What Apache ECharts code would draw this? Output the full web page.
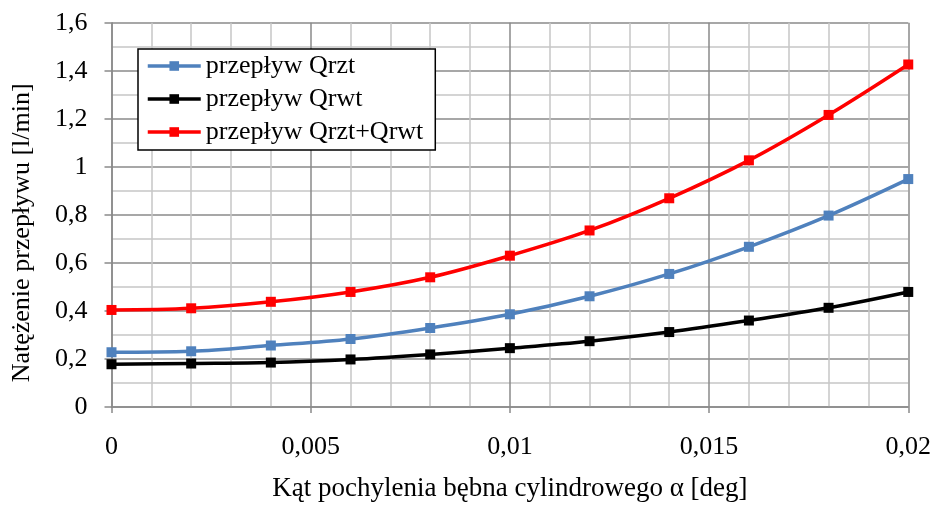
<!DOCTYPE html>
<html>
<head>
<meta charset="utf-8">
<script src="https://cdn.jsdelivr.net/npm/echarts@6/dist/echarts.min.js"></script>
<style>
  html, body { margin: 0; padding: 0; background: #fff; overflow: hidden; }
  #chart { width: 934px; height: 507px; }
</style>
</head>
<body>
<div id="chart"></div>
<script>
// Tilt angle of the cylindrical drum [deg]
const angles = [0, 0.002, 0.004, 0.006, 0.008, 0.010, 0.012, 0.014, 0.016, 0.018, 0.020];
// Flow rates [l/min]
const flowQrzt = [0.228, 0.232, 0.256, 0.283, 0.329, 0.386, 0.461, 0.554, 0.667, 0.797, 0.949];
const flowQrwt = [0.178, 0.181, 0.185, 0.198, 0.219, 0.245, 0.274, 0.312, 0.360, 0.413, 0.479];
const flowSum  = [0.404, 0.411, 0.438, 0.479, 0.540, 0.630, 0.735, 0.869, 1.027, 1.216, 1.426];

const seriesNames = ['przepływ Qrzt', 'przepływ Qrwt', 'przepływ Qrzt+Qrwt'];
const seriesColors = ['#4F81BD', '#000000', '#FF0000'];
const xAxisTitle = 'Kąt pochylenia bębna cylindrowego α [deg]';
const yAxisTitle = 'Natężenie przepływu [l/min]';

const FONT = '"Liberation Serif", "Times New Roman", serif';
const commaFmt = v => String(+v.toFixed(6)).replace('.', ',');

function pairs(values) {
  return angles.map((a, i) => [a, values[i]]);
}

const chart = echarts.init(document.getElementById('chart'), null, { renderer: 'canvas', width: 934, height: 507 });

const majorLine = { show: true, lineStyle: { color: '#8a8a8a', width: 1.5 } };
const minorLine = { show: true, lineStyle: { color: '#c6c6c6', width: 1.5 } };

chart.setOption({
  animation: false,
  backgroundColor: '#ffffff',
  textStyle: { fontFamily: FONT },
  grid: { left: 111.5, top: 22.7, width: 798.5, height: 390.6, containLabel: false },
  legend: {
    orient: 'vertical',
    left: 138,
    top: 49,
    padding: [4, 12, 5, 8],
    itemGap: 7,
    itemWidth: 53,
    itemHeight: 12,
    backgroundColor: '#ffffff',
    borderColor: '#000000',
    borderWidth: 1.5,
    lineStyle: { width: 3.5 },
    textStyle: { fontFamily: FONT, fontSize: 26, color: '#000' },
    data: seriesNames
  },
  xAxis: {
    type: 'value',
    min: 0,
    max: 0.02,
    interval: 0.005,
    name: xAxisTitle,
    nameLocation: 'middle',
    nameGap: 68,
    nameTextStyle: { fontFamily: FONT, fontSize: 27, color: '#000' },
    axisLine: { show: true, lineStyle: { color: '#8a8a8a', width: 1.5 } },
    axisTick: { show: true, inside: false, length: 6, lineStyle: { color: '#8a8a8a', width: 1.5 } },
    axisLabel: { fontFamily: FONT, fontSize: 26, color: '#000', margin: 27, formatter: commaFmt },
    splitLine: majorLine,
    minorTick: { show: false, splitNumber: 5 },
    minorSplitLine: minorLine
  },
  yAxis: {
    type: 'value',
    min: 0,
    max: 1.6,
    interval: 0.2,
    name: yAxisTitle,
    nameLocation: 'middle',
    nameGap: 76,
    nameRotate: 90,
    nameTextStyle: { fontFamily: FONT, fontSize: 26, color: '#000', padding: [0, 36, 0, 0] },
    axisLine: { show: true, lineStyle: { color: '#8a8a8a', width: 1.5 } },
    axisTick: { show: true, inside: false, length: 7, lineStyle: { color: '#8a8a8a', width: 1.5 } },
    axisLabel: { fontFamily: FONT, fontSize: 26, color: '#000', margin: 24, formatter: commaFmt },
    splitLine: majorLine,
    minorTick: { show: false, splitNumber: 2 },
    minorSplitLine: minorLine
  },
  series: [flowQrzt, flowQrwt, flowSum].map((vals, i) => ({
    name: seriesNames[i],
    type: 'line',
    data: pairs(vals),
    smooth: 0.35,
    symbol: 'rect',
    symbolSize: 10,
    lineStyle: { color: seriesColors[i], width: 3.5 },
    itemStyle: { color: seriesColors[i] },
    z: 3 + i
  }))
});
</script>
</body>
</html>
